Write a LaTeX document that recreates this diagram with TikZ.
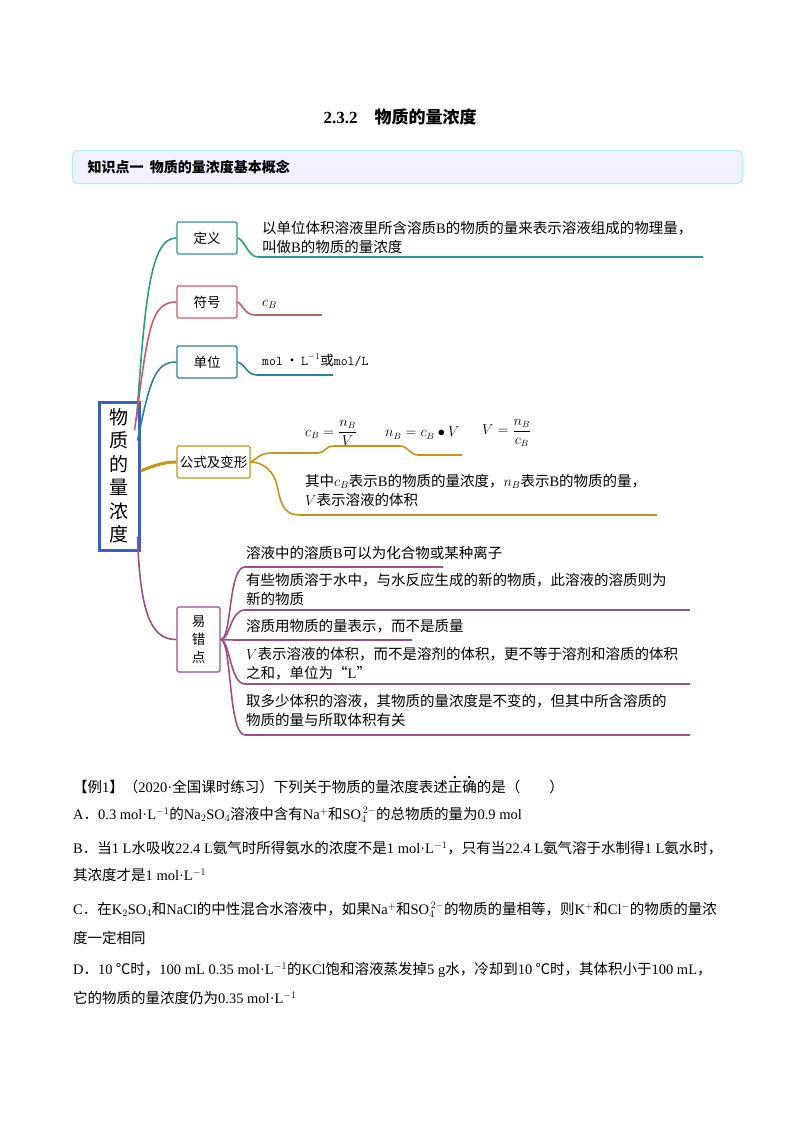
\documentclass[tikz,border=0pt]{standalone}
\usepackage{fontspec}
\setmainfont{Liberation Serif}
\newfontfamily\cjk{Noto Sans CJK SC}
\newfontfamily\ltf{Liberation Serif}
\newcommand{\lt}[1]{{\ltf #1}}
\newcommand{\dotc}[1]{\leavevmode\rlap{\raisebox{0.95em}{\makebox[1em]{\ltf\bfseries .}}}#1}
\definecolor{cteal}{HTML}{2E9A8A}
\definecolor{cred}{HTML}{C0606A}
\definecolor{cblue}{HTML}{2F7F99}
\definecolor{cgold}{HTML}{C8931A}
\definecolor{cpurp}{HTML}{9B4F86}
\definecolor{cmain}{HTML}{3A5FC8}
\begin{document}
\begin{tikzpicture}[x=1pt,y=-1pt,
  box/.style={draw=#1,line width=1.3pt,rounded corners=1.5pt,inner sep=0pt,font=\cjk\fontsize{13.5}{15}\selectfont},
  br/.style={draw=#1,line width=1.6pt},
  txt/.style={anchor=west,inner sep=0pt,font=\cjk\fontsize{14.5}{19}\selectfont,align=left},
  bt/.style={anchor=west,inner sep=0pt,font=\cjk\fontsize{14.5}{16}\selectfont}]
\useasboundingbox (0,0) rectangle (800,1132);
\node[font=\ltf\bfseries\fontsize{17}{20}\selectfont] (title) at (400,117) {2.3.2\quad{\cjk\bfseries 物质的量浓度}};
\node[draw=blue!25!cyan!30,fill=blue!6,rounded corners=5pt,line width=1.2pt,minimum width=670,minimum height=33,anchor=north west] (hdr) at (72,150) {};
\node[anchor=west,font=\cjk\bfseries\fontsize{14}{16}\selectfont] (hdrt) at (84,167) {知识点一\ \ 物质的量浓度基本概念};
% central
\node[draw=cmain,line width=3pt,minimum width=40,minimum height=148,align=center,inner sep=0pt,font=\cjk\fontsize{19}{23.5}\selectfont] (c) at (119,476) {物\\质\\的\\量\\浓\\度};
% boxes
\node[box=cteal,minimum width=60,minimum height=32] (dy) at (207,238) {定义};
\node[box=cred,minimum width=60,minimum height=32] (fh) at (207,302) {符号};
\node[box=cblue,minimum width=60,minimum height=32] (dw) at (207,362) {单位};
\node[box=cgold,minimum width=73,minimum height=32] (gs) at (213.5,462) {公式及变形};
\node[box=cpurp,minimum width=43,minimum height=65,align=center,font=\cjk\fontsize{13.5}{18}\selectfont] (yc) at (198.5,639.5) {易\\错\\点};
% main branches
\draw[br=cteal] (c.north east) ++(-4,20) .. controls (145,300) and (150,238) .. (dy.west);
\draw[br=cred] (c.north east) ++(-6,30) .. controls (148,330) and (150,302) .. (fh.west);
\draw[br=cblue] (c.north east) ++(-3,40) .. controls (150,380) and (155,362) .. (dw.west);
\draw[cgold,line width=3pt] (c.east) ++(0,-5) .. controls (155,465) and (165,462) .. (gs.west);
\draw[br=cpurp] (c.south east) ++(-3,-15) .. controls (140,610) and (150,640) .. (yc.west);
% 定义
\coordinate (dyl) at (703,257);
\draw[br=cteal] (dy.east) .. controls (245,240) and (248,257) .. (258,257) -- (dyl);
\node[txt] (dyt) at (262,237) {以单位体积溶液里所含溶质\lt{B}的物质的量来表示溶液组成的物理量，\\叫做\lt{B}的物质的量浓度};
% 符号
\coordinate (fhl) at (322,315);
\draw[br=cred] (fh.east) .. controls (243,305) and (245,315) .. (255,315) -- (fhl);
\node[txt] (fht) at (262,304) {$c_B$};
% 单位
\coordinate (dwl) at (333,375);
\draw[br=cblue] (dw.east) .. controls (245,364) and (247,375) .. (257,375) -- (dwl);
\node[txt,font=\ttfamily\fontsize{13.5}{15}\selectfont] (dwt) at (262,360) {mol\,{\cjk •}\,L$^{-1}${\cjk 或}mol/L};
% 公式
\coordinate (g1) at (462,455);
\draw[br=cgold] (gs.east) .. controls (258,458) and (260,453) .. (272,453) -- (318,453) .. controls (325,453) and (325,446) .. (334,446) -- (400,446) .. controls (408,446) and (410,455) .. (418,455) -- (g1);
\node[txt,font=\fontsize{13.5}{15}\selectfont] (f1) at (305,433) {$c_B=\displaystyle\frac{n_B}{V}$};
\node[txt,font=\fontsize{13.5}{15}\selectfont] (f2) at (385,433) {$n_B=c_B\bullet V$};
\node[txt,font=\fontsize{13.5}{15}\selectfont] (f3) at (482,433) {$V=\displaystyle\frac{n_B}{c_B}$};
\coordinate (g2) at (657,515);
\draw[br=cgold] (gs.east) .. controls (262,462) and (275,470) .. (278,490) .. controls (282,510) and (288,515) .. (300,515) -- (g2);
\node[txt] (gt) at (305,490) {其中$c_B$表示\lt{B}的物质的量浓度，$n_B$表示\lt{B}的物质的量，\\$V$表示溶液的体积};
% 易错点
\coordinate (y1) at (443,567);
\coordinate (y2) at (690,610);
\coordinate (y3) at (412,640);
\coordinate (y4) at (690,684);
\coordinate (y5) at (690,735);
\draw[br=cpurp] (yc.east) .. controls (232,640) and (228,567) .. (245,567) -- (y1);
\draw[br=cpurp] (yc.east) .. controls (230,640) and (230,610) .. (245,610) -- (y2);
\draw[br=cpurp] (yc.east) .. controls (230,640) and (235,640) .. (245,640) -- (y3);
\draw[br=cpurp] (yc.east) .. controls (230,640) and (230,684) .. (245,684) -- (y4);
\draw[br=cpurp] (yc.east) .. controls (232,640) and (228,735) .. (245,735) -- (y5);
\node[txt] (e1) at (246,553) {溶液中的溶质\lt{B}可以为化合物或某种离子};
\node[txt] (e2) at (246,589) {有些物质溶于水中，与水反应生成的新的物质，此溶液的溶质则为\\新的物质};
\node[txt] (e3) at (246,626) {溶质用物质的量表示，而不是质量};
\node[txt] (e4) at (246,664) {$V$表示溶液的体积，而不是溶剂的体积，更不等于溶剂和溶质的体积\\之和，单位为“\lt{L}”};
\node[txt] (e5) at (246,710) {取多少体积的溶液，其物质的量浓度是不变的，但其中所含溶质的\\物质的量与所取体积有关};
% bottom text
\node[bt] (q0) at (73,785) {【例\lt{1}】（\lt{2020·}全国课时练习）下列关于物质的量浓度表述\dotc{正}\dotc{确}的是（\qquad）};
\node[bt] (qa) at (73,815) {\lt{A}．\lt{0.3 mol·L$^{-1}$}的\lt{Na$_2$SO$_4$}溶液中含有\lt{Na$^+$}和\lt{SO$_4^{\,2-}$}的总物质的量为\lt{0.9 mol}};
\node[bt] (qb) at (73,848) {\lt{B}．当\lt{1 L}水吸收\lt{22.4 L}氨气时所得氨水的浓度不是\lt{1 mol·L$^{-1}$}，只有当\lt{22.4 L}氨气溶于水制得\lt{1 L}氨水时，};
\node[bt] (qb2) at (73,875) {其浓度才是\lt{1 mol·L$^{-1}$}};
\node[bt] (qc) at (73,910) {\lt{C}．在\lt{K$_2$SO$_4$}和\lt{NaCl}的中性混合水溶液中，如果\lt{Na$^+$}和\lt{SO$_4^{\,2-}$}的物质的量相等，则\lt{K$^+$}和\lt{Cl$^-$}的物质的量浓};
\node[bt] (qc2) at (73,938) {度一定相同};
\node[bt] (qd) at (73,970) {\lt{D}．\lt{10} ℃时，\lt{100 mL 0.35 mol·L$^{-1}$}的\lt{KCl}饱和溶液蒸发掉\lt{5 g}水，冷却到\lt{10} ℃时，其体积小于\lt{100 mL}，};
\node[bt] (qd2) at (73,998) {它的物质的量浓度仍为\lt{0.35 mol·L$^{-1}$}};
\end{tikzpicture}
\end{document}
